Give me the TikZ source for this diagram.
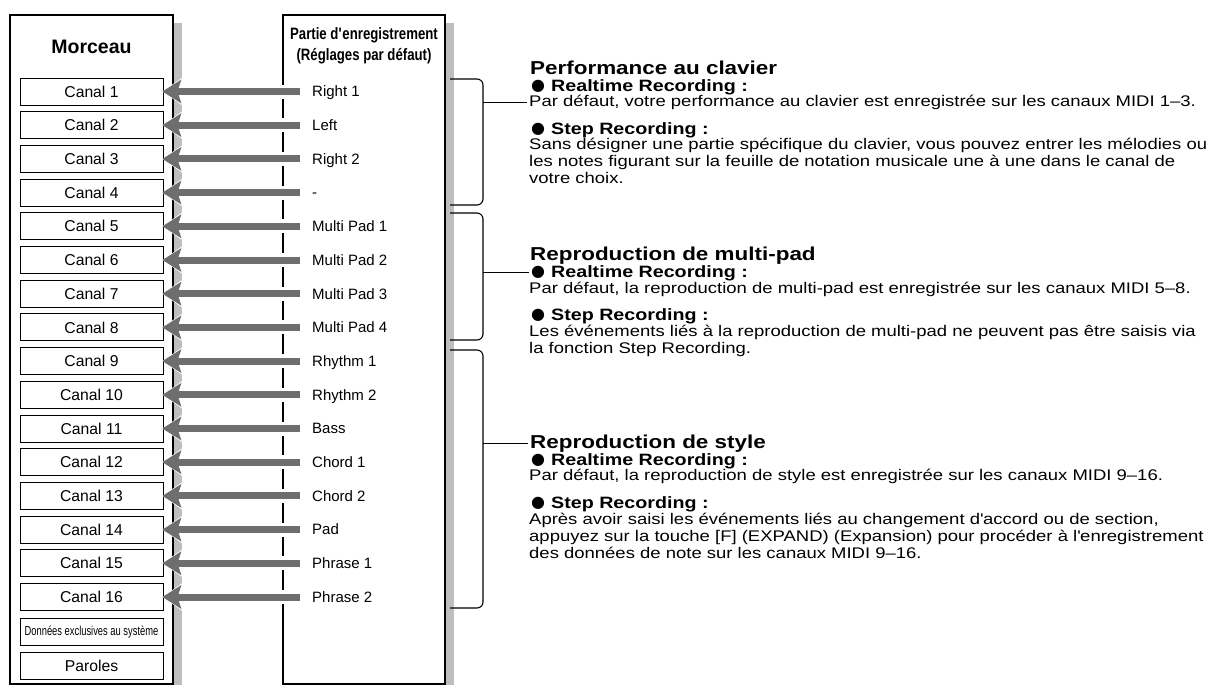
\documentclass[tikz,border=0pt]{standalone}
\usepackage{fontspec}
\setmainfont{Liberation Sans}
\newfontfamily\widefont[FakeStretch=1.2]{Liberation Sans}
\newfontfamily\narrowfont[FakeStretch=0.8]{Liberation Sans}
\newfontfamily\squeezefont[FakeStretch=0.72]{Liberation Sans}
\newfontfamily\dotfont{DejaVu Sans}
\usetikzlibrary{arrows.meta,positioning,calc,backgrounds}

\definecolor{arrowgrey}{RGB}{110,110,112}
\definecolor{shadowgrey}{RGB}{188,190,193}

\newcommand{\recdot}{\raisebox{1pt}{\dotfont\fontsize{16}{16}\selectfont ●}\hspace{6pt}}

\begin{document}
\begin{tikzpicture}[
    x=1pt, y=-1pt,
    frame/.style={draw, line width=1.3pt, fill=white, minimum height=669pt, inner sep=0pt},
    canal/.style={draw, line width=0.9pt, fill=white, minimum width=143pt, minimum height=27pt,
                  inner sep=0pt, font=\fontsize{15.7}{16}\selectfont},
    part/.style={anchor=west, inner sep=0pt, text height=10.7pt, text depth=0pt,
                 font=\fontsize{15}{16}\selectfont},
    assign/.style={draw=arrowgrey, line width=7pt,
                   -{Stealth[length=19pt, width=24pt, inset=4pt, line width=0pt]},
                   preaction={draw=white, line width=14pt,
                   -{Stealth[length=23pt, width=32pt, inset=5pt, line width=0pt]}}},
    brace/.style={line width=1.1pt, rounded corners=6pt},
    heading/.style={anchor=base west, inner sep=0pt, font=\widefont\bfseries\fontsize{18.7}{20}\selectfont},
    subhead/.style={anchor=base west, inner sep=0pt, font=\widefont\bfseries\fontsize{16.4}{17}\selectfont},
    body/.style={anchor=base west, inner sep=0pt, align=left, font=\widefont\fontsize{15.4}{17}\selectfont},
]
\useasboundingbox (0,0) rectangle (1214,688);

% =====================  SONG / RECORDING PART  =====================
\node[frame, minimum width=163pt] (song) at (91.5,349.5) {};
\node[frame, minimum width=162pt] (rec)  at (364,349.5) {};

\begin{scope}[on background layer]
  \fill[shadowgrey] ([yshift=-9pt]song.north east) rectangle ([xshift=8pt]song.south east);
  \fill[shadowgrey] ([yshift=-9pt]rec.north east)  rectangle ([xshift=8pt]rec.south east);
\end{scope}

\node[font=\bfseries\fontsize{19.5}{20}\selectfont] (songtitle) at (91.5,47) {Morceau};
\node[align=center, font=\narrowfont\bfseries\fontsize{16.5}{21}\selectfont] (rectitle) at (364,45.5)
  {Partie d\textquotesingle enregistrement\\(Réglages par défaut)};

% one row per MIDI channel
\foreach \lab [count=\i] in {Right 1, Left, Right 2, -, Multi Pad 1, Multi Pad 2, Multi Pad 3, Multi Pad 4,
                             Rhythm 1, Rhythm 2, Bass, Chord 1, Chord 2, Pad, Phrase 1, Phrase 2}{
  \node[canal] (c\i) at (91.5,{91.5+33.7*(\i-1)}) {Canal \i};
  \node[part]  (p\i) at (312,{91.5+33.7*(\i-1)}) {\lab};
}
\node[canal, below=6.7pt of c16, font=\squeezefont\fontsize{13}{14}\selectfont] (sysex) {Données exclusives au système};
\node[canal, below=6.7pt of sysex] (lyrics) {Paroles};

\foreach \i in {1,...,16}
  \draw[assign] ([xshift=-12pt]p\i.west) -- ([xshift=-1pt]c\i.east);

% =====================  NOTES  =====================
% (multi-line notes sit on the baseline of their last line)
% keyboard performance
\node[heading] (kbhead)     at (530,74.5)  {Performance au clavier};
\node[subhead] (kbrt)       at (531,91)    {\recdot Realtime Recording :};
\node[body]    (kbrtbody)   at (529,106.5) {Par défaut, votre performance au clavier est enregistrée sur les canaux MIDI 1–3.};
\node[subhead] (kbstep)     at (531,134)   {\recdot Step Recording :};
\node[body]    (kbstepbody) at (529,183.5) {Sans désigner une partie spécifique du clavier, vous pouvez entrer les mélodies ou\\
                                            les notes figurant sur la feuille de notation musicale une à une dans le canal de\\
                                            votre choix.};

% multi pad
\node[heading] (mphead)     at (530,260.7) {Reproduction de multi-pad};
\node[subhead] (mprt)       at (531,277)   {\recdot Realtime Recording :};
\node[body]    (mprtbody)   at (529,293.5) {Par défaut, la reproduction de multi-pad est enregistrée sur les canaux MIDI 5–8.};
\node[subhead] (mpstep)     at (531,320)   {\recdot Step Recording :};
\node[body]    (mpstepbody) at (529,353.5) {Les événements liés à la reproduction de multi-pad ne peuvent pas être saisis via\\
                                            la fonction Step Recording.};

% style
\node[heading] (sthead)     at (530,448.7) {Reproduction de style};
\node[subhead] (strt)       at (531,465)   {\recdot Realtime Recording :};
\node[body]    (strtbody)   at (529,480.5) {Par défaut, la reproduction de style est enregistrée sur les canaux MIDI 9–16.};
\node[subhead] (ststep)     at (531,508)   {\recdot Step Recording :};
\node[body]    (ststepbody) at (529,558.5) {Après avoir saisi les événements liés au changement d\textquotesingle accord ou de section,\\
                                            appuyez sur la touche [F] (EXPAND) (Expansion) pour procéder à l\textquotesingle enregistrement\\
                                            des données de note sur les canaux MIDI 9–16.};

% brackets
\coordinate (bx) at (483,0);
\draw[brace] (450,79)  -| (483,205) -- (450,205);
\draw[brace] (450,213) -| (483,340) -- (450,340);
\draw[brace] (450,350) -| (483,608) -- (450,608);
\draw[line width=1.1pt] (kbrtbody.west -| bx) -- ([xshift=-2pt]kbrtbody.west);
\draw[line width=1.1pt] (mprt.west -| bx)     -- ([xshift=-2pt]mprt.west);
\draw[line width=1.1pt] (sthead.west -| bx)   -- ([xshift=-2pt]sthead.west);

\end{tikzpicture}
\end{document}
